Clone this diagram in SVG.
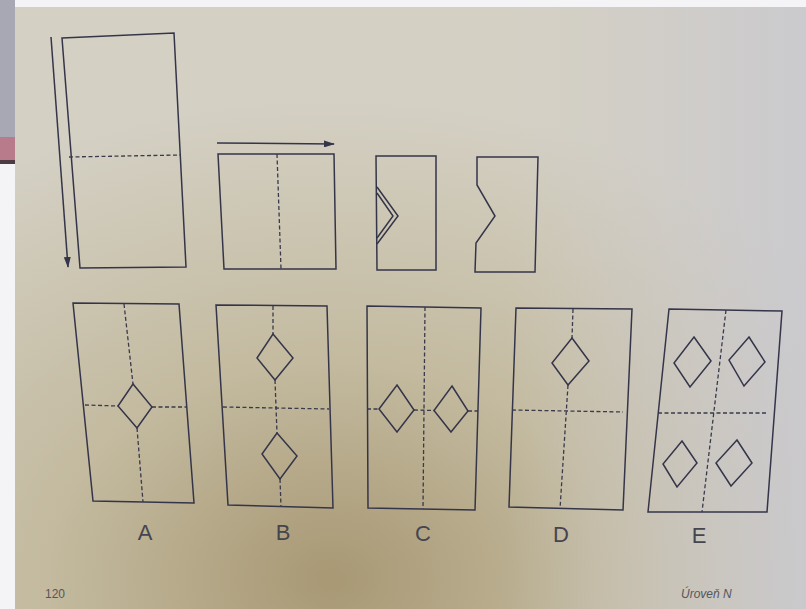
<svg xmlns="http://www.w3.org/2000/svg" width="806" height="609" viewBox="0 0 806 609">
<defs>
<radialGradient id="paper" cx="0.4" cy="0.95" r="0.8" fx="0.4" fy="0.95">
<stop offset="0" stop-color="#a89874"/>
<stop offset="0.45" stop-color="#c3ba9f"/>
<stop offset="1" stop-color="#d4d0c4"/>
</radialGradient>
<linearGradient id="right" x1="0" y1="0" x2="1" y2="0">
<stop offset="0.62" stop-color="#cfcccc" stop-opacity="0"/>
<stop offset="1" stop-color="#c9c9d0" stop-opacity="0.85"/>
</linearGradient>
<marker id="ah" markerWidth="11" markerHeight="7" refX="10" refY="3.5" orient="auto" markerUnits="userSpaceOnUse">
<path d="M0,0 L11,3.5 L0,7 Z" fill="#35354a"/>
</marker>
</defs>
<style>
.s{fill:none;stroke:#35354a;stroke-width:1.5;stroke-linejoin:miter}
.d{fill:none;stroke:#3a3a4c;stroke-width:1.3;stroke-dasharray:4 2.5}
.lab{font-family:"Liberation Sans",Arial,sans-serif;font-size:22px;fill:#45454f;text-anchor:middle}
.ft{font-family:"Liberation Sans",Arial,sans-serif;font-size:12px;fill:#55555c}
</style>
<!-- background -->
<rect x="0" y="0" width="806" height="609" fill="#f4f4f6"/>
<rect x="15" y="7" width="791" height="602" fill="url(#paper)"/>
<rect x="15" y="7" width="791" height="602" fill="url(#right)"/>
<rect x="0" y="0" width="15" height="137" fill="#a8a7b4"/>
<rect x="0" y="137" width="15" height="24" fill="#b77b8b"/>
<rect x="0" y="160" width="15" height="4" fill="#4d3b43"/>

<g id="step1">
<path class="s" d="M62,38 L174,33 L186,267 L80,268 Z"/>
<path class="d" d="M69,157 L180,155"/>
</g>
<g id="step2">
<path class="s" d="M218,154 L334,154 L336,269 L224,269 Z"/>
<path class="d" d="M277,154 L281,269"/>
</g>
<g id="step3">
<path class="s" d="M376,156 L436,156 L436,270 L377,270 Z"/>
<path class="s" d="M377,187 L398,216 L377,244"/>
<path class="s" d="M377,193 L393,216 L377,238"/>
</g>
<g id="step4">
<path class="s" d="M477,157 L538,157 L535,272 L475,272 L476,243 L495,216 L477,185 Z"/>
</g>
<g id="connectors">
<line class="s" x1="51" y1="37" x2="68" y2="267" marker-end="url(#ah)"/>
<line class="s" x1="217" y1="143" x2="334" y2="144" marker-end="url(#ah)"/>
</g>

<g id="optA">
<path class="s" d="M73,303 L179,304 L194,503 L93,501 Z"/>
<path class="d" d="M85,405 L118,406 M152,407 L187,407 M124,304 L133,384 M137,428 L143,502"/>
<path class="s" d="M133,384 L152,407 L137,428 L118,406 Z"/>
</g>
<g id="optB">
<path class="s" d="M216,305 L327,306 L333,508 L228,505 Z"/>
<path class="d" d="M223,407 L329,409 M273,306 L273,334 M275,380 L277,433 M280,479 L281,507"/>
<path class="s" d="M273,334 L293,358 L275,380 L257,358 Z"/>
<path class="s" d="M277,433 L297,456 L280,479 L262,454 Z"/>
</g>
<g id="optC">
<path class="s" d="M367,306 L481,308 L475,510 L368,508 Z"/>
<path class="d" d="M425,307 L423,509 M367,409 L379,409 M414,410 L434,410.5 M468,411 L478,411"/>
<path class="s" d="M397,385 L414,410 L397,432 L379,409 Z"/>
<path class="s" d="M452,386 L468,411 L451,432 L434,410.5 Z"/>
</g>
<g id="optD">
<path class="s" d="M516,308 L632,309 L623,510 L509,507 Z"/>
<path class="d" d="M512,410 L623,412 M573,309 L572,338 M568,385 L560,509"/>
<path class="s" d="M572,338 L589,361 L568,385 L552,363 Z"/>
</g>
<g id="optE">
<path class="s" d="M669,309 L782,311 L767,512 L648,512 Z"/>
<path class="d" d="M658,413 L768,413 M726,310 L702,512"/>
<path class="s" d="M694,337 L711,361 L690,387 L674,363 Z"/>
<path class="s" d="M749,337 L765,362 L744,386 L729,360 Z"/>
<path class="s" d="M682,441 L697,463 L677,487 L663,464 Z"/>
<path class="s" d="M737,440 L752,463 L731,486 L716,463 Z"/>
</g>

<g id="labels">
<text class="lab" x="145" y="540">A</text>
<text class="lab" x="283" y="540">B</text>
<text class="lab" x="423" y="541">C</text>
<text class="lab" x="561" y="542">D</text>
<text class="lab" x="699" y="543">E</text>
<text class="ft" x="45" y="598">120</text>
<text class="ft" x="681" y="598" font-style="italic">Úroveň N</text>
</g>
</svg>
